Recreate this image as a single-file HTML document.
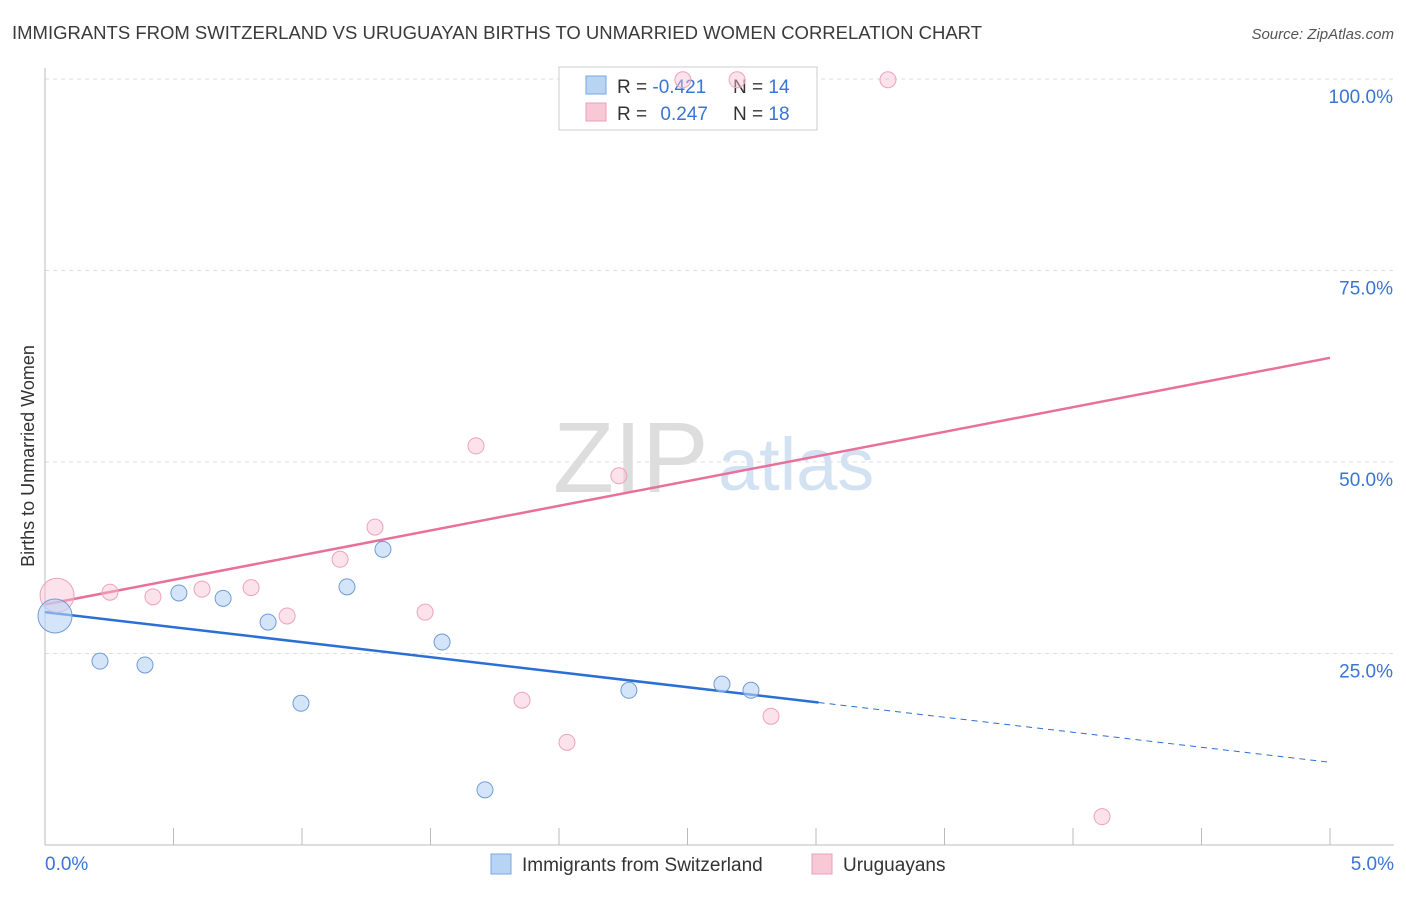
<!DOCTYPE html>
<html><head><meta charset="utf-8">
<style>
body{margin:0;background:#fff;font-family:"Liberation Sans",sans-serif;}
svg text{font-family:"Liberation Sans",sans-serif;}
</style></head>
<body>
<svg id="chart" width="1406" height="892" viewBox="0 0 1406 892" xmlns="http://www.w3.org/2000/svg">
<text x="12" y="39" font-size="18.5" fill="#3a3a3a" textLength="970">IMMIGRANTS FROM SWITZERLAND VS URUGUAYAN BIRTHS TO UNMARRIED WOMEN CORRELATION CHART</text>
<text x="1394" y="39" font-size="15" fill="#555" text-anchor="end" font-style="italic">Source: ZipAtlas.com</text>
<text transform="translate(34,456) rotate(-90)" font-size="18" fill="#333" text-anchor="middle">Births to Unmarried Women</text>
<g>
<text x="553" y="492" font-size="100" fill="#ddd" font-family="Liberation Serif,serif">ZIP</text>
<text x="718" y="490" font-size="74" fill="#d3e2f3">atlas</text>
</g>
<g id="grid"></g>
<g id="axes"></g>
<g id="lines"></g>
<g>
<rect x="559" y="67" width="258" height="63" fill="#fff" stroke="#ccc"/>
<rect x="586" y="76" width="20" height="18" fill="#b8d4f5" stroke="#7aa7e0"/>
<rect x="586" y="103" width="20" height="18" fill="#f9c8d6" stroke="#e8a0b8"/>
<text x="617" y="93" font-size="19" fill="#333">R = <tspan fill="#3a74d4">-0.421</tspan></text>
<text x="733" y="93" font-size="19" fill="#333">N = <tspan fill="#3a74d4">14</tspan></text>
<text x="617" y="120" font-size="19" fill="#333">R = <tspan fill="#3a74d4" dx="8">0.247</tspan></text>
<text x="733" y="120" font-size="19" fill="#333">N = <tspan fill="#3a74d4">18</tspan></text>
</g>
<g id="points"></g>
<g>
<rect x="491" y="854" width="20" height="20" fill="#b8d4f5" stroke="#7aa7e0"/>
<text x="522" y="871" font-size="19" fill="#333">Immigrants from Switzerland</text>
<rect x="812" y="854" width="20" height="20" fill="#f9c8d6" stroke="#e8a0b8"/>
<text x="843" y="871" font-size="19" fill="#333">Uruguayans</text>
</g>
</svg>
<script>
const blueX=[0.039,0.214,0.389,0.521,0.693,0.868,0.996,1.175,1.315,1.545,1.712,2.272,2.634,2.747];
const blueY=[29.9,24.0,23.5,32.9,32.2,29.1,18.5,33.7,38.6,26.5,7.2,20.2,21.0,20.2];
const pinkX=[0.047,0.253,0.420,0.611,0.802,0.942,1.148,1.284,1.479,1.677,1.856,2.031,2.233,2.482,2.693,2.825,3.280,4.113];
const pinkY=[32.6,33.0,32.4,33.4,33.6,29.9,37.3,41.5,30.4,52.1,18.9,13.4,48.2,99.9,99.9,16.8,99.9,3.7];
const blueTrend=[30.4,10.8];
const pinkTrend=[31.4,63.6];
const yTicks=[25,50,75,100];
const yTickLabels=["25.0%","50.0%","75.0%","100.0%"];
const xTickLabels=["0.0%","5.0%"];
const NS="http://www.w3.org/2000/svg";
const X=v=>45+v/5*1285, Y=v=>845-v/100*766;
function mk(p,t,a){const e=document.createElementNS(NS,t);for(const k in a)e.setAttribute(k,a[k]);document.getElementById(p).appendChild(e);return e;}
yTicks.forEach((t,i)=>{
 const g=mk('grid','line',{x1:45,x2:1394,y1:Y(t),y2:Y(t),stroke:'#ddd','stroke-dasharray':'4,4'});
 
 
 const l=mk('grid','text',{x:1393,y:Y(t)+24,'font-size':19,fill:'#3a74d4','text-anchor':'end'});
 l.textContent=yTickLabels[i];
 
 
});
const ya=mk('axes','line',{x1:45,x2:45,y1:68,y2:845,stroke:'#bbb'});


const xa=mk('axes','line',{x1:45,x2:1394,y1:845,y2:845,stroke:'#bbb'});


for(let i=0;i<=10;i++){const t=mk('axes','line',{x1:X(i*0.5),x2:X(i*0.5),y1:828,y2:845,stroke:'#bbb'});
 
 }
[[0,'start',45],[5,'end',1394]].forEach((d,i)=>{const t=mk('axes','text',{x:d[2],y:870,'font-size':19,fill:'#3a74d4','text-anchor':d[1]});t.textContent=xTickLabels[i];
 
 });
const bAt=x=>blueTrend[0]+(blueTrend[1]-blueTrend[0])*x/5;
const pAt=x=>pinkTrend[0]+(pinkTrend[1]-pinkTrend[0])*x/5;
const bl=mk('lines','line',{x1:X(0),y1:Y(bAt(0)),x2:X(3.01),y2:Y(bAt(3.01)),stroke:'#2a6fd6','stroke-width':2.5});


const bd=mk('lines','line',{x1:X(3.01),y1:Y(bAt(3.01)),x2:X(5),y2:Y(bAt(5)),stroke:'#2a6fd6','stroke-width':1,'stroke-dasharray':'6,5'});


const pl=mk('lines','line',{x1:X(0),y1:Y(pAt(0)),x2:X(5),y2:Y(pAt(5)),stroke:'#e8709a','stroke-width':2.5});


pinkX.forEach((x,i)=>{const c=mk('points','circle',{cx:X(x),cy:Y(pinkY[i]),r:i==0?17:8,fill:'rgba(249,190,208,0.45)',stroke:'#eda3bb','stroke-width':1});
 
 });
blueX.forEach((x,i)=>{const c=mk('points','circle',{cx:X(x),cy:Y(blueY[i]),r:i==0?17:8,fill:'rgba(184,212,245,0.6)',stroke:'#6f9bd8','stroke-width':1});
 
 });
</script>
</body></html>
